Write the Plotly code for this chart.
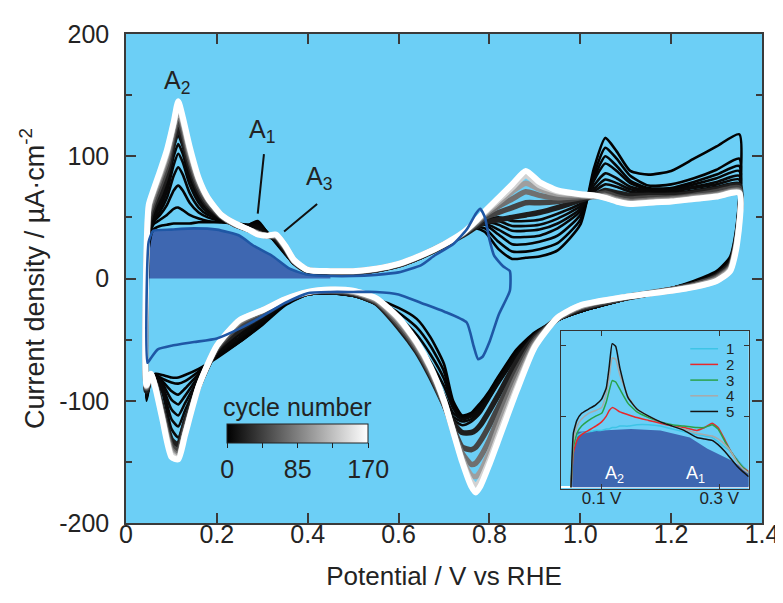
import plotly.graph_objects as go

# ---------------- data ----------------
ANODIC_V = [0.045, 0.05, 0.06, 0.075, 0.09, 0.105, 0.115, 0.125, 0.14, 0.16, 0.18, 0.21, 0.24, 0.27,
            0.29, 0.31, 0.33, 0.35, 0.37, 0.40, 0.45, 0.50, 0.55, 0.60, 0.65, 0.70, 0.74, 0.77, 0.79,
            0.82, 0.85, 0.88, 0.91, 0.95, 1.00, 1.03, 1.055, 1.08, 1.11, 1.15, 1.20, 1.25, 1.30, 1.35]
CATHODIC_V = [1.345, 1.33, 1.30, 1.25, 1.20, 1.10, 1.00, 0.95, 0.90, 0.86, 0.82, 0.80, 0.78, 0.77,
              0.76, 0.74, 0.72, 0.70, 0.67, 0.64, 0.60, 0.55, 0.50, 0.45, 0.40, 0.35, 0.30, 0.25,
              0.20, 0.16, 0.13, 0.115, 0.10, 0.08, 0.065, 0.055, 0.045]

CYCLE_NUMBERS = [1, 2, 3, 4, 5, 6, 7, 20, 45, 75, 105, 140, 170]

ANODIC_C1 = [-100, 25, 40, 43, 44, 45, 45, 45, 45, 46, 46, 46, 45, 44, 47, 38, 29, 20, 12, 6, 4, 4, 6, 10, 17, 26, 35, 41, 38, 24, 16, 17, 18, 23, 44, 90, 115, 104, 88, 85, 88, 98, 108, 118]
CATHODIC_C1 = [45, 18, 6, -2, -8, -17, -27, -34, -44, -58, -80, -92, -102, -106, -110, -112, -100, -70, -48, -33, -24, -17, -14, -12, -13, -22, -38, -52, -65, -74, -79, -81, -81, -79, -78, -82, -100]
ANODIC_C2 = [-98, 30, 44, 48, 52, 57, 58, 56, 52, 49, 47, 46, 45, 44, 46, 38, 30, 21, 12, 6, 4, 4, 6, 10, 17, 26, 35, 42, 41, 30, 22, 22, 24, 29, 48, 85, 107, 98, 84, 76, 77, 82, 89, 98]
CATHODIC_C2 = [40, 16, 5, -3, -8, -17, -27, -34, -45, -59, -81, -93, -103, -107, -111, -113, -102, -76, -55, -40, -28, -18, -14, -12, -13, -21, -37, -52, -64, -76, -84, -86, -85, -82, -79, -82, -98]
ANODIC_C3 = [-98, 32, 46, 52, 60, 72, 76, 72, 62, 54, 50, 47, 45, 43, 45, 38, 30, 21, 12, 6, 4, 4, 6, 10, 17, 26, 35, 43, 44, 36, 28, 28, 30, 35, 52, 82, 100, 92, 80, 74, 74, 79, 85, 92]
CATHODIC_C3 = [38, 15, 5, -3, -8, -17, -27, -34, -45, -60, -82, -94, -104, -108, -111, -114, -104, -82, -62, -46, -32, -19, -14, -12, -13, -21, -36, -50, -63, -78, -90, -95, -92, -84, -80, -82, -98]
ANODIC_C4 = [-97, 34, 48, 55, 66, 84, 91, 85, 70, 58, 52, 48, 45, 43, 44, 38, 30, 21, 12, 6, 4, 4, 6, 10, 17, 26, 35, 43, 45, 40, 34, 34, 35, 41, 55, 80, 94, 88, 78, 73, 73, 77, 82, 88]
CATHODIC_C4 = [36, 14, 4, -3, -8, -17, -27, -34, -45, -61, -83, -95, -105, -109, -112, -115, -106, -88, -68, -52, -36, -20, -14, -12, -13, -20, -35, -49, -62, -80, -96, -103, -99, -86, -81, -82, -97]
ANODIC_C5 = [-96, 35, 50, 58, 71, 93, 102, 95, 77, 62, 54, 49, 45, 42, 43, 37, 30, 21, 12, 6, 4, 4, 6, 10, 17, 26, 35, 44, 46, 44, 39, 39, 40, 45, 57, 76, 86, 82, 75, 72, 72, 75, 79, 84]
CATHODIC_C5 = [35, 13, 4, -4, -8, -17, -27, -34, -46, -62, -84, -96, -106, -110, -113, -115, -110, -95, -74, -57, -39, -21, -14, -12, -13, -20, -34, -48, -61, -82, -102, -112, -107, -88, -82, -82, -96]
ANODIC_C6 = [-95, 36, 52, 61, 76, 100, 110, 102, 82, 65, 56, 49, 45, 42, 42, 37, 30, 21, 12, 6, 4, 4, 6, 10, 17, 26, 35, 44, 47, 47, 43, 43, 44, 49, 59, 73, 81, 78, 73, 71, 71, 74, 77, 81]
CATHODIC_C6 = [34, 13, 4, -4, -8, -17, -27, -34, -46, -63, -85, -97, -108, -112, -115, -117, -113, -99, -78, -59, -40, -21, -14, -12, -13, -19, -33, -46, -60, -84, -108, -121, -115, -90, -83, -82, -95]
ANODIC_C7 = [-94, 38, 54, 64, 80, 107, 117, 108, 87, 68, 58, 50, 45, 41, 41, 37, 30, 21, 12, 6, 4, 4, 6, 10, 17, 26, 35, 44, 48, 50, 47, 47, 48, 53, 61, 71, 77, 75, 71, 70, 70, 72, 75, 78]
CATHODIC_C7 = [33, 12, 4, -4, -8, -17, -27, -34, -46, -64, -86, -98, -110, -114, -117, -120, -115, -101, -79, -60, -40, -21, -14, -12, -13, -19, -32, -45, -60, -86, -114, -130, -123, -93, -84, -82, -94]
ANODIC_C20 = [-92, 45, 58, 70, 86, 112, 124, 114, 92, 72, 60, 50, 44, 40, 38, 35, 33, 24, 13, 6, 5, 5, 7, 11, 18, 27, 35, 42, 46, 48, 50, 52, 54, 58, 64, 68, 72, 70, 68, 68, 68, 70, 73, 76]
CATHODIC_C20 = [35, 12, 2, -5, -9, -16, -25, -33, -48, -68, -95, -108, -120, -124, -126, -126, -118, -103, -80, -60, -40, -20, -13, -11, -12, -19, -30, -42, -58, -88, -118, -136, -132, -106, -86, -80, -92]
ANODIC_C45 = [-90, 50, 62, 76, 92, 118, 131, 120, 97, 75, 62, 51, 44, 40, 37, 35, 34, 25, 14, 7, 5, 5, 7, 11, 18, 27, 36, 44, 50, 54, 58, 62, 62, 63, 66, 68, 70, 67, 65, 66, 66, 68, 71, 74]
CATHODIC_C45 = [33, 10, 1, -5, -9, -16, -24, -33, -50, -75, -105, -120, -133, -138, -140, -138, -122, -103, -78, -58, -38, -19, -12, -10, -12, -18, -28, -38, -57, -88, -122, -141, -137, -109, -87, -80, -90]
ANODIC_C75 = [-89, 54, 66, 81, 97, 122, 136, 125, 101, 78, 64, 51, 44, 40, 37, 35, 35, 26, 14, 7, 6, 6, 8, 12, 19, 28, 36, 45, 52, 59, 65, 71, 68, 66, 67, 67, 68, 65, 63, 64, 65, 67, 69, 72]
CATHODIC_C75 = [32, 9, 0, -6, -9, -15, -23, -33, -52, -80, -114, -132, -146, -151, -152, -143, -124, -102, -76, -56, -36, -18, -11, -10, -11, -18, -27, -36, -56, -88, -125, -144, -140, -111, -88, -79, -89]
ANODIC_C105 = [-88, 57, 69, 84, 101, 125, 139, 128, 104, 80, 65, 52, 45, 40, 37, 35, 35, 26, 14, 7, 6, 6, 8, 12, 19, 28, 37, 46, 53, 62, 71, 78, 73, 69, 68, 67, 67, 64, 62, 63, 64, 66, 68, 71]
CATHODIC_C105 = [31, 8, -1, -6, -10, -15, -23, -32, -54, -85, -122, -142, -158, -162, -161, -147, -125, -101, -74, -54, -34, -17, -11, -9, -11, -17, -26, -35, -55, -88, -127, -146, -142, -113, -89, -79, -88]
ANODIC_C140 = [-88, 59, 71, 86, 103, 127, 142, 130, 106, 81, 66, 52, 45, 40, 36, 35, 36, 27, 15, 7, 6, 6, 8, 12, 19, 28, 37, 47, 54, 64, 74, 84, 76, 71, 69, 68, 66, 63, 61, 62, 63, 65, 67, 70]
CATHODIC_C140 = [30, 7, -2, -7, -10, -15, -22, -32, -55, -89, -128, -148, -165, -169, -166, -149, -125, -100, -73, -53, -33, -16, -10, -9, -11, -17, -26, -34, -55, -88, -127, -147, -144, -114, -89, -78, -88]
ANODIC_C170 = [-87, 60, 72, 88, 105, 128, 145, 132, 108, 82, 66, 52, 45, 40, 36, 35, 36, 27, 15, 7, 6, 6, 8, 12, 19, 28, 37, 47, 55, 66, 77, 88, 79, 72, 69, 68, 66, 63, 61, 62, 63, 65, 67, 70]
CATHODIC_C170 = [28, 6, -2, -7, -10, -15, -22, -32, -56, -92, -132, -152, -170, -175, -170, -150, -125, -100, -72, -52, -32, -16, -10, -9, -11, -17, -26, -34, -55, -88, -128, -148, -146, -115, -90, -78, -87]

ANODIC_SETS = [ANODIC_C1, ANODIC_C2, ANODIC_C3, ANODIC_C4, ANODIC_C5, ANODIC_C6, ANODIC_C7,
               ANODIC_C20, ANODIC_C45, ANODIC_C75, ANODIC_C105, ANODIC_C140, ANODIC_C170]
CATHODIC_SETS = [CATHODIC_C1, CATHODIC_C2, CATHODIC_C3, CATHODIC_C4, CATHODIC_C5, CATHODIC_C6, CATHODIC_C7,
                 CATHODIC_C20, CATHODIC_C45, CATHODIC_C75, CATHODIC_C105, CATHODIC_C140, CATHODIC_C170]

# first (blue) cycle
BLUE_ANODIC_V = [0.047, 0.05, 0.06, 0.10, 0.15, 0.20, 0.25, 0.28, 0.32, 0.36, 0.40, 0.45, 0.50, 0.55,
                 0.60, 0.65, 0.68, 0.72, 0.75, 0.77, 0.78, 0.79, 0.80, 0.81, 0.83, 0.845]
BLUE_ANODIC_I = [-69, 30, 39, 40, 41, 40, 35, 27, 19, 8, 3, 2, 2, 3, 5, 11, 19, 28, 40, 53, 57, 50, 32, 19, 10, 6]
BLUE_CATHODIC_V = [0.845, 0.82, 0.80, 0.785, 0.775, 0.765, 0.75, 0.70, 0.65, 0.60, 0.55, 0.50, 0.45,
                   0.40, 0.35, 0.30, 0.25, 0.20, 0.15, 0.10, 0.07, 0.055, 0.047]
BLUE_CATHODIC_I = [-10, -30, -52, -64, -66, -55, -36, -27, -20, -13, -11, -11, -11, -12, -20, -31, -41, -49, -52, -55, -58, -65, -69]

# inset: first five cycles, 0.05 - 0.35 V
INSET_V = [0.048, 0.052, 0.058, 0.066, 0.078, 0.09, 0.10, 0.108, 0.113, 0.118, 0.124, 0.131, 0.145,
           0.16, 0.18, 0.20, 0.22, 0.24, 0.262, 0.275, 0.288, 0.298, 0.31, 0.32, 0.33, 0.34, 0.35]
INSET_LABELS = ["1", "2", "3", "4", "5"]
INSET_I1 = [0, 25, 36, 38, 39, 40, 40, 41, 41, 42, 42, 43, 43, 44, 44, 43, 41, 39, 37, 36, 35, 32, 28, 25, 20, 15, 11]
INSET_I2 = [0, 24, 33, 37, 40, 43, 46, 50, 54, 56, 55, 53, 51, 49, 47, 45, 43, 42, 40, 42, 45, 42, 33, 25, 19, 14, 11]
INSET_I3 = [0, 28, 38, 43, 47, 50, 52, 60, 68, 75, 74, 69, 59, 53, 49, 46, 44, 43, 42, 42, 44, 41, 32, 25, 19, 14, 10]
INSET_I4 = [0, 32, 43, 48, 52, 54, 56, 66, 78, 91, 90, 79, 64, 55, 50, 46, 43, 41, 38, 37, 36, 34, 30, 25, 18, 13, 10]
INSET_I5 = [0, 38, 47, 52, 55, 58, 62, 70, 85, 101, 99, 84, 63, 55, 50, 46, 43, 40, 35, 34, 33, 30, 25, 20, 15, 11, 7.5]
INSET_SETS = [INSET_I1, INSET_I2, INSET_I3, INSET_I4, INSET_I5]
INSET_COLORS = ["#3ec4e6", "#e8282b", "#2aa24a", "#a9a9a9", "#141414"]

X_TICKS = [0, 0.2, 0.4, 0.6, 0.8, 1.0, 1.2, 1.4]
X_TICKTEXT = ["0", "0.2", "0.4", "0.6", "0.8", "1.0", "1.2", "1.4"]
Y_TICKS = [-200, -100, 0, 100, 200]
Y_TICKTEXT = ["-200", "-100", "0", "100", "200"]
CB_TICKS = [0, 42.5, 85, 127.5, 170]
CB_TICKTEXT = ["0", " ", "85", " ", "170"]
MAX_CYCLE = 170

# ---------------- figure ----------------
FONT = "Liberation Sans, Arial, Helvetica, sans-serif"
BG_BLUE = "#6ccff6"
FILL_BLUE = "#3e67b1"
LINE_BLUE = "#1f57a5"
AXIS_COL = "#3a3a3a"
TXT = "#232323"

fig = go.Figure()

# blue filled area (first cycle, anodic part)
fig.add_trace(go.Scatter(x=BLUE_ANODIC_V[1:12], y=BLUE_ANODIC_I[1:12], mode="lines",
                         line=dict(width=0, color=FILL_BLUE), fill="tozeroy", fillcolor=FILL_BLUE,
                         showlegend=False, hoverinfo="skip"))

for n, an, ca in zip(CYCLE_NUMBERS, ANODIC_SETS, CATHODIC_SETS):
    g = round(255 * n / MAX_CYCLE)
    col = f"rgb({g},{g},{g})"
    if n <= 7:
        w = 2.6
    elif n < MAX_CYCLE:
        w = 5.5
    else:
        w = 6
    fig.add_trace(go.Scatter(x=ANODIC_V + CATHODIC_V, y=an + ca, mode="lines",
                             line=dict(color=col, width=w, shape="spline", smoothing=0.6),
                             showlegend=False, hoverinfo="skip"))

fig.add_trace(go.Scatter(x=BLUE_ANODIC_V + BLUE_CATHODIC_V, y=BLUE_ANODIC_I + BLUE_CATHODIC_I,
                         mode="lines", line=dict(color=LINE_BLUE, width=2.6, shape="spline", smoothing=0.5),
                         showlegend=False, hoverinfo="skip"))

# colour bar for cycle number (its title is placed as an annotation just above it)
CB_X = 0.27
fig.add_trace(go.Scatter(x=[None], y=[None], mode="markers", showlegend=False, hoverinfo="skip",
                         marker=dict(color=[0], cmin=0, cmax=MAX_CYCLE,
                                     colorscale=[[0, "#000000"], [1, "#ffffff"]], showscale=True,
                                     colorbar=dict(orientation="h", x=CB_X, xanchor="center",
                                                   y=0.202, yanchor="top", len=141, lenmode="pixels",
                                                   thickness=19, outlinecolor="#222", outlinewidth=1,
                                                   tickvals=CB_TICKS, ticktext=CB_TICKTEXT,
                                                   ticks="outside", ticklen=5, tickcolor="#222",
                                                   tickfont=dict(size=25, color=TXT, family=FONT),
                                                   xpad=0, ypad=0, bgcolor="rgba(0,0,0,0)"))))

# inset
fig.add_trace(go.Scatter(x=BLUE_ANODIC_V[1:], y=BLUE_ANODIC_I[1:], mode="lines", xaxis="x2", yaxis="y2",
                         line=dict(width=0, color=FILL_BLUE), fill="tozeroy", fillcolor=FILL_BLUE,
                         showlegend=False, hoverinfo="skip"))
for lab, vals, col in zip(INSET_LABELS, INSET_SETS, INSET_COLORS):
    fig.add_trace(go.Scatter(x=INSET_V, y=vals, mode="lines", xaxis="x2", yaxis="y2", name=lab,
                             showlegend=False,
                             line=dict(color=col, width=1.5, shape="spline", smoothing=0.4)))

# compact legend for the inset (keys drawn in inset-domain coordinates)
LEG_TOP, LEG_STEP = 0.887, 0.099
shapes = [dict(type="rect", xref="x2 domain", yref="y2 domain", x0=0, x1=1, y0=0, y1=1,
               fillcolor="white", line=dict(width=0), layer="below")]
annotations = []
for i, (lab, col) in enumerate(zip(INSET_LABELS, INSET_COLORS)):
    yy = LEG_TOP - i * LEG_STEP
    shapes.append(dict(type="line", xref="x2 domain", yref="y2 domain", x0=0.689, x1=0.837,
                       y0=yy, y1=yy, line=dict(color=col, width=1.5)))
    annotations.append(dict(x=0.875, y=yy, xref="x2 domain", yref="y2 domain", text=lab,
                            showarrow=False, xanchor="left", yanchor="middle", borderpad=0,
                            font=dict(size=15, color=TXT)))

annotations += [
    dict(x=CB_X, y=0.238, xref="paper", yref="paper", text="cycle number", showarrow=False,
         xanchor="center", yanchor="middle", font=dict(size=25, color=TXT)),
    dict(x=0.113, y=161, xref="x", yref="y", text="A<sub>2</sub>", showarrow=False,
         font=dict(size=25, color=TXT)),
    dict(x=0.300, y=121, xref="x", yref="y", text="A<sub>1</sub>", showarrow=False,
         font=dict(size=25, color=TXT)),
    dict(x=0.425, y=82, xref="x", yref="y", text="A<sub>3</sub>", showarrow=False,
         font=dict(size=25, color=TXT)),
    dict(x=0.29, y=53, ax=0.304, ay=103, xref="x", yref="y", axref="x", ayref="y", text="",
         showarrow=True, arrowhead=0, arrowwidth=2, arrowcolor="#111", standoff=0),
    dict(x=0.348, y=38.5, ax=0.424, ay=62, xref="x", yref="y", axref="x", ayref="y", text="",
         showarrow=True, arrowhead=0, arrowwidth=2, arrowcolor="#111", standoff=0),
    dict(x=0.122, y=9, xref="x2", yref="y2", text="A<sub>2</sub>", showarrow=False,
         font=dict(size=18, color="white")),
    dict(x=0.26, y=9, xref="x2", yref="y2", text="A<sub>1</sub>", showarrow=False,
         font=dict(size=18, color="white")),
]

axis_common = dict(showline=True, linecolor=AXIS_COL, linewidth=1.5, mirror="ticks", ticks="inside",
                   tickcolor=AXIS_COL, showgrid=False, zeroline=False)

fig.update_layout(
    width=783, height=603,
    margin=dict(l=118, r=21, t=24, b=88),
    paper_bgcolor="white", plot_bgcolor=BG_BLUE,
    font=dict(family=FONT, color=TXT),
    showlegend=False,
    xaxis=dict(range=[0, 1.4], tickvals=X_TICKS, ticktext=X_TICKTEXT, ticklen=10, tickwidth=1.5,
               tickfont=dict(size=25), ticklabelstandoff=-12,
               title=dict(text="Potential / V vs RHE", font=dict(size=26), standoff=20), **axis_common),
    yaxis=dict(range=[-200, 200], tickvals=Y_TICKS, ticktext=Y_TICKTEXT, ticklen=10, tickwidth=1.5,
               minor=dict(dtick=50, ticks="inside", ticklen=6, tickcolor=AXIS_COL, tickwidth=1.5),
               tickfont=dict(size=25), ticklabelstandoff=10,
               title=dict(text="Current density / µA·cm<sup>-2</sup>", font=dict(size=27), standoff=7),
               **axis_common),
    xaxis2=dict(domain=[0.684, 0.979], anchor="y2", range=[0.031, 0.35], tickvals=[0.1, 0.3],
                ticktext=["0.1 V", "0.3 V"], ticklen=5, tickwidth=1, tickfont=dict(size=17),
                ticklabelstandoff=-7,
                showline=True, linecolor="#333", linewidth=1, mirror="ticks", ticks="inside",
                tickcolor="#333", showgrid=False, zeroline=False),
    yaxis2=dict(domain=[0.069, 0.393], anchor="x2", range=[-1.4, 110], tickvals=[50, 100],
                showticklabels=False, ticklen=5, tickwidth=1,
                showline=True, linecolor="#333", linewidth=1, mirror="ticks", ticks="inside",
                tickcolor="#333", showgrid=False, zeroline=True, zerolinecolor="white", zerolinewidth=1.5),
    shapes=shapes,
    annotations=annotations,
)

fig.write_html("out.html")
